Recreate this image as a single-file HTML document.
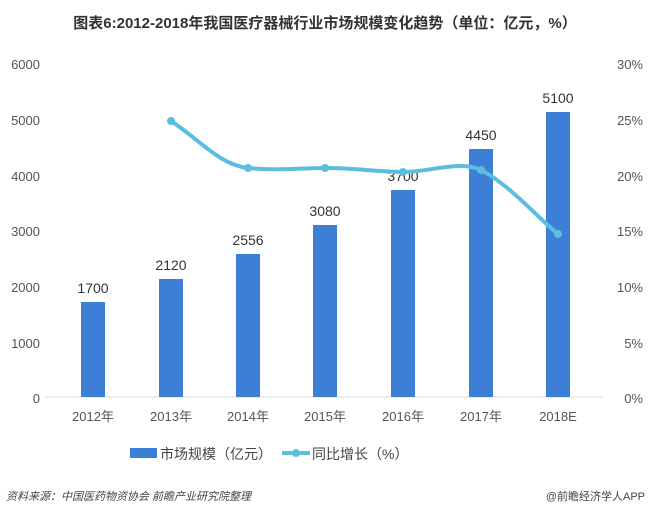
<!DOCTYPE html>
<html><head><meta charset="utf-8"><style>
body{margin:0;background:#fff;}
svg{display:block;font-family:"Liberation Sans","Noto Sans CJK SC",sans-serif;}
</style></head><body>
<svg width="651" height="515" viewBox="0 0 651 515">
<text x="325" y="28" text-anchor="middle" font-size="15" font-weight="bold" fill="#333">图表6:2012-2018年我国医疗器械行业市场规模变化趋势（单位：亿元，%）</text>
<g font-size="13" fill="#555">
<text x="40" y="69" text-anchor="end">6000</text>
<text x="40" y="125" text-anchor="end">5000</text>
<text x="40" y="181" text-anchor="end">4000</text>
<text x="40" y="236" text-anchor="end">3000</text>
<text x="40" y="292" text-anchor="end">2000</text>
<text x="40" y="348" text-anchor="end">1000</text>
<text x="40" y="403" text-anchor="end">0</text>
<text x="643" y="69" text-anchor="end">30%</text>
<text x="643" y="125" text-anchor="end">25%</text>
<text x="643" y="181" text-anchor="end">20%</text>
<text x="643" y="236" text-anchor="end">15%</text>
<text x="643" y="292" text-anchor="end">10%</text>
<text x="643" y="348" text-anchor="end">5%</text>
<text x="643" y="403" text-anchor="end">0%</text>
</g>
<line x1="45" y1="397" x2="603" y2="397" stroke="#d9d9d9" stroke-width="1"/>
<g fill="#3d7fd6">
<rect x="81" y="302" width="24" height="95"/>
<rect x="159" y="279" width="24" height="118"/>
<rect x="236" y="254" width="24" height="143"/>
<rect x="313" y="225" width="24" height="172"/>
<rect x="391" y="190" width="24" height="207"/>
<rect x="469" y="149" width="24" height="248"/>
<rect x="546" y="112" width="24" height="285"/>
</g>
<g font-size="14" fill="#333" text-anchor="middle">
<text x="93" y="293">1700</text>
<text x="171" y="270">2120</text>
<text x="248" y="245">2556</text>
<text x="325" y="216">3080</text>
<text x="403" y="181">3700</text>
<text x="481" y="140">4450</text>
<text x="558" y="103">5100</text>
</g>
<path d="M171,121 C200,140 220,165 248,168 C280,171 300,168 325,168 C355,168 380,172 403,172 C430,172 460,160 481,170 C510,185 540,220 558,234" fill="none" stroke="#5bbde0" stroke-width="4"/>
<g fill="#5bbde0">
<circle cx="171" cy="121" r="4"/><circle cx="248" cy="168" r="4"/><circle cx="325" cy="168" r="4"/><circle cx="403" cy="172" r="4"/><circle cx="481" cy="170" r="4"/><circle cx="558" cy="234" r="4"/>
</g>
<g font-size="13" fill="#555" text-anchor="middle">
<text x="93" y="421">2012年</text>
<text x="171" y="421">2013年</text>
<text x="248" y="421">2014年</text>
<text x="325" y="421">2015年</text>
<text x="403" y="421">2016年</text>
<text x="481" y="421">2017年</text>
<text x="558" y="421">2018E</text>
</g>
<rect x="130" y="448" width="27" height="10" fill="#3d7fd6"/>
<text x="160" y="459" font-size="14" fill="#444">市场规模（亿元）</text>
<line x1="282" y1="453" x2="310" y2="453" stroke="#5bbde0" stroke-width="4"/>
<circle cx="296" cy="453" r="4" fill="#5bbde0"/>
<text x="312" y="459" font-size="14" fill="#444">同比增长（%）</text>
<text x="6" y="500" font-size="11" font-style="italic" fill="#444">资料来源：中国医药物资协会  前瞻产业研究院整理</text>
<text x="645" y="500" font-size="11" fill="#444" text-anchor="end">@前瞻经济学人APP</text>
</svg>
</body></html>
